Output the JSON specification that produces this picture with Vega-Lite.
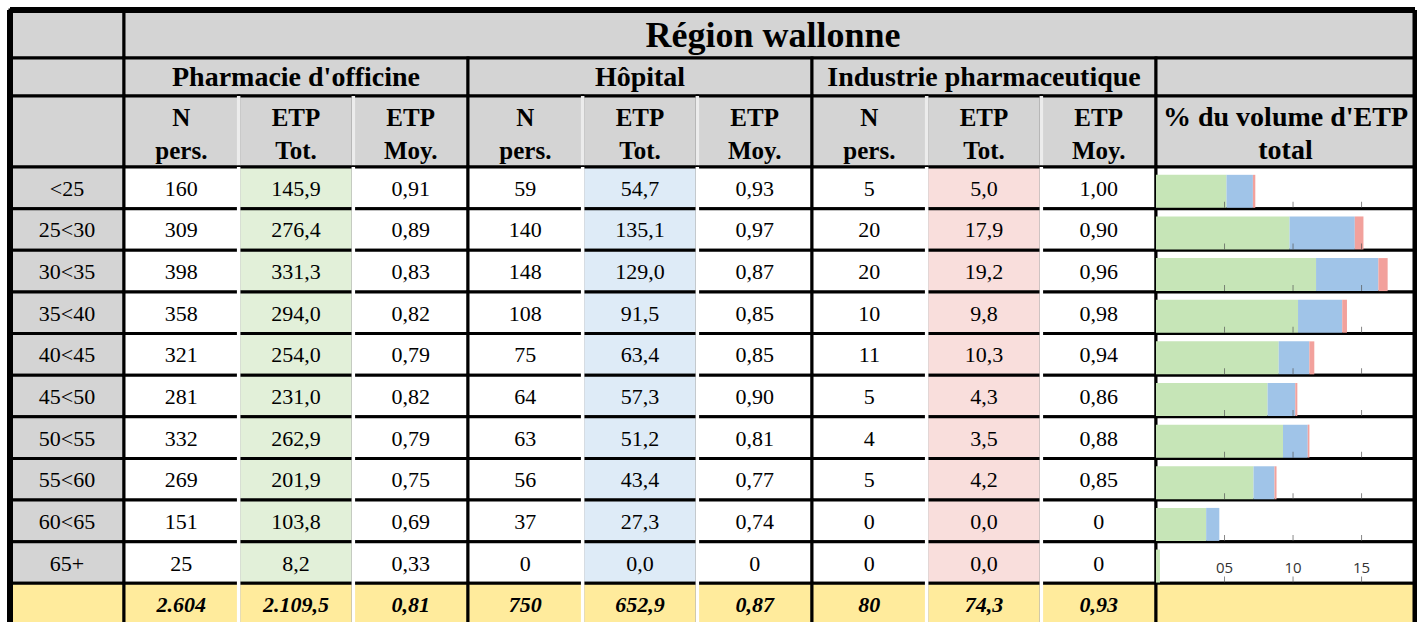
{
  "$schema": "https://vega.github.io/schema/vega-lite/v6.json",
  "background": "white",
  "padding": {"left": 7, "top": 7, "right": 0, "bottom": 0},
  "spacing": 0,
  "bounds": "flush",
  "columns": 3,
  "config": {
    "view": {"stroke": null},
    "concat": {"spacing": 0},
    "font": "Liberation Serif",
    "scale": {"bandPaddingInner": 0, "bandPaddingOuter": 0, "rectBandPaddingInner": 0, "barBandPaddingInner": 0}
  },
  "datasets": {
    "ages": [
      {"age": "<25"}, {"age": "25<30"}, {"age": "30<35"}, {"age": "35<40"}, {"age": "40<45"},
      {"age": "45<50"}, {"age": "50<55"}, {"age": "55<60"}, {"age": "60<65"}, {"age": "65+"}, {"age": "Total"}
    ],
    "cells": [
      {"age": "<25", "P_n": "160", "P_tot": "145,9", "P_moy": "0,91", "H_n": "59", "H_tot": "54,7", "H_moy": "0,93", "I_n": "5", "I_tot": "5,0", "I_moy": "1,00"},
      {"age": "25<30", "P_n": "309", "P_tot": "276,4", "P_moy": "0,89", "H_n": "140", "H_tot": "135,1", "H_moy": "0,97", "I_n": "20", "I_tot": "17,9", "I_moy": "0,90"},
      {"age": "30<35", "P_n": "398", "P_tot": "331,3", "P_moy": "0,83", "H_n": "148", "H_tot": "129,0", "H_moy": "0,87", "I_n": "20", "I_tot": "19,2", "I_moy": "0,96"},
      {"age": "35<40", "P_n": "358", "P_tot": "294,0", "P_moy": "0,82", "H_n": "108", "H_tot": "91,5", "H_moy": "0,85", "I_n": "10", "I_tot": "9,8", "I_moy": "0,98"},
      {"age": "40<45", "P_n": "321", "P_tot": "254,0", "P_moy": "0,79", "H_n": "75", "H_tot": "63,4", "H_moy": "0,85", "I_n": "11", "I_tot": "10,3", "I_moy": "0,94"},
      {"age": "45<50", "P_n": "281", "P_tot": "231,0", "P_moy": "0,82", "H_n": "64", "H_tot": "57,3", "H_moy": "0,90", "I_n": "5", "I_tot": "4,3", "I_moy": "0,86"},
      {"age": "50<55", "P_n": "332", "P_tot": "262,9", "P_moy": "0,79", "H_n": "63", "H_tot": "51,2", "H_moy": "0,81", "I_n": "4", "I_tot": "3,5", "I_moy": "0,88"},
      {"age": "55<60", "P_n": "269", "P_tot": "201,9", "P_moy": "0,75", "H_n": "56", "H_tot": "43,4", "H_moy": "0,77", "I_n": "5", "I_tot": "4,2", "I_moy": "0,85"},
      {"age": "60<65", "P_n": "151", "P_tot": "103,8", "P_moy": "0,69", "H_n": "37", "H_tot": "27,3", "H_moy": "0,74", "I_n": "0", "I_tot": "0,0", "I_moy": "0"},
      {"age": "65+", "P_n": "25", "P_tot": "8,2", "P_moy": "0,33", "H_n": "0", "H_tot": "0,0", "H_moy": "0", "I_n": "0", "I_tot": "0,0", "I_moy": "0"},
      {"age": "Total", "P_n": "2.604", "P_tot": "2.109,5", "P_moy": "0,81", "H_n": "750", "H_tot": "652,9", "H_moy": "0,87", "I_n": "80", "I_tot": "74,3", "I_moy": "0,93"}
    ],
    "bars": [
      {"age": "<25", "a_officine": 5.143, "b_hopital": 1.928, "c_industrie": 0.176},
      {"age": "25<30", "a_officine": 9.744, "b_hopital": 4.763, "c_industrie": 0.631},
      {"age": "30<35", "a_officine": 11.679, "b_hopital": 4.548, "c_industrie": 0.677},
      {"age": "35<40", "a_officine": 10.364, "b_hopital": 3.226, "c_industrie": 0.345},
      {"age": "40<45", "a_officine": 8.954, "b_hopital": 2.235, "c_industrie": 0.363},
      {"age": "45<50", "a_officine": 8.143, "b_hopital": 2.020, "c_industrie": 0.152},
      {"age": "50<55", "a_officine": 9.268, "b_hopital": 1.805, "c_industrie": 0.123},
      {"age": "55<60", "a_officine": 7.117, "b_hopital": 1.530, "c_industrie": 0.148},
      {"age": "60<65", "a_officine": 3.659, "b_hopital": 0.962, "c_industrie": 0},
      {"age": "65+", "a_officine": 0.289, "b_hopital": 0, "c_industrie": 0}
    ],
    "ticks": [
      {"age": "<25", "v": 5}, {"age": "<25", "v": 10}, {"age": "<25", "v": 15},
      {"age": "25<30", "v": 5}, {"age": "25<30", "v": 10}, {"age": "25<30", "v": 15},
      {"age": "30<35", "v": 5}, {"age": "30<35", "v": 10}, {"age": "30<35", "v": 15},
      {"age": "35<40", "v": 5}, {"age": "35<40", "v": 10}, {"age": "35<40", "v": 15},
      {"age": "40<45", "v": 5}, {"age": "40<45", "v": 10}, {"age": "40<45", "v": 15},
      {"age": "45<50", "v": 5}, {"age": "45<50", "v": 10}, {"age": "45<50", "v": 15},
      {"age": "50<55", "v": 5}, {"age": "50<55", "v": 10}, {"age": "50<55", "v": 15},
      {"age": "55<60", "v": 5}, {"age": "55<60", "v": 10}, {"age": "55<60", "v": 15},
      {"age": "60<65", "v": 5}, {"age": "60<65", "v": 10}, {"age": "60<65", "v": 15},
      {"age": "65+", "v": 5}, {"age": "65+", "v": 10}, {"age": "65+", "v": 15}
    ],
    "tlabels": [
      {"age": "65+", "v": 5, "lab": "05"}, {"age": "65+", "v": 10, "lab": "10"}, {"age": "65+", "v": 15, "lab": "15"}
    ],
    "subs": [
      {"col": "P_n", "lab": ["N", "pers."]}, {"col": "P_tot", "lab": ["ETP", "Tot."]}, {"col": "P_moy", "lab": ["ETP", "Moy."]},
      {"col": "H_n", "lab": ["N", "pers."]}, {"col": "H_tot", "lab": ["ETP", "Tot."]}, {"col": "H_moy", "lab": ["ETP", "Moy."]},
      {"col": "I_n", "lab": ["N", "pers."]}, {"col": "I_tot", "lab": ["ETP", "Tot."]}, {"col": "I_moy", "lab": ["ETP", "Moy."]}
    ],
    "seps": [
      {"col": "P_tot"}, {"col": "P_moy"}, {"col": "H_tot"}, {"col": "H_moy"}, {"col": "I_tot"}, {"col": "I_moy"}
    ],
    "groups": [
      {"g": "Pharmacie d'officine"}, {"g": "Hôpital"}, {"g": "Industrie pharmaceutique"}
    ],
    "one": [{}]
  },
  "concat": [
    {
      "width": 114, "height": 48,
      "data": {"name": "one"},
      "layer": [
        {"mark": {"type": "rect", "fill": "#d4d4d4", "stroke": "black", "strokeWidth": 3},
         "encoding": {"x": {"datum": 0, "type": "quantitative", "scale": {"domain": [0, 1]}, "axis": null}, "x2": {"datum": 1},
                      "y": {"datum": 0, "type": "quantitative", "scale": {"domain": [0, 1]}, "axis": null}, "y2": {"datum": 1}}},
        {"mark": {"type": "rule", "color": "black", "strokeWidth": 6}, "encoding": {"x": {"datum": 0, "type": "quantitative"}}},
        {"mark": {"type": "rule", "color": "black", "strokeWidth": 6}, "encoding": {"y": {"datum": 1, "type": "quantitative"}}}
      ]
    },
    {
      "width": 1032, "height": 48,
      "data": {"name": "one"},
      "layer": [
        {"mark": {"type": "rect", "fill": "#d4d4d4"},
         "encoding": {"x": {"datum": 0, "type": "quantitative", "scale": {"domain": [0, 1]}, "axis": null}, "x2": {"datum": 1},
                      "y": {"datum": 0, "type": "quantitative", "scale": {"domain": [0, 1]}, "axis": null}, "y2": {"datum": 1}}},
        {"mark": {"type": "rule", "color": "black", "strokeWidth": 3}, "encoding": {"x": {"datum": 0, "type": "quantitative"}}},
        {"mark": {"type": "rule", "color": "black", "strokeWidth": 3}, "encoding": {"y": {"datum": 0, "type": "quantitative"}}},
        {"mark": {"type": "rule", "color": "black", "strokeWidth": 6}, "encoding": {"y": {"datum": 1, "type": "quantitative"}}},
        {"mark": {"type": "text", "text": "Région wallonne", "fontSize": 36, "fontWeight": "bold", "color": "black", "dx": 133, "dy": 2, "baseline": "middle", "align": "center"}, "encoding": {}}
      ]
    },
    {
      "width": 259, "height": 48,
      "data": {"name": "one"},
      "layer": [
        {"mark": {"type": "rect", "fill": "#d4d4d4"},
         "encoding": {"x": {"datum": 0, "type": "quantitative", "scale": {"domain": [0, 1]}, "axis": null}, "x2": {"datum": 1},
                      "y": {"datum": 0, "type": "quantitative", "scale": {"domain": [0, 1]}, "axis": null}, "y2": {"datum": 1}}},
        {"mark": {"type": "rule", "color": "black", "strokeWidth": 3}, "encoding": {"y": {"datum": 0, "type": "quantitative"}}},
        {"mark": {"type": "rule", "color": "black", "strokeWidth": 6}, "encoding": {"y": {"datum": 1, "type": "quantitative"}}},
        {"mark": {"type": "rule", "color": "black", "strokeWidth": 5}, "encoding": {"x": {"datum": 1, "type": "quantitative"}}}
      ]
    },
    {
      "width": 114, "height": 38,
      "data": {"name": "one"},
      "layer": [
        {"mark": {"type": "rect", "fill": "#d4d4d4", "stroke": "black", "strokeWidth": 3},
         "encoding": {"x": {"datum": 0, "type": "quantitative", "scale": {"domain": [0, 1]}, "axis": null}, "x2": {"datum": 1},
                      "y": {"datum": 0, "type": "quantitative", "scale": {"domain": [0, 1]}, "axis": null}, "y2": {"datum": 1}}},
        {"mark": {"type": "rule", "color": "black", "strokeWidth": 6}, "encoding": {"x": {"datum": 0, "type": "quantitative"}}}
      ]
    },
    {
      "width": 1032, "height": 38,
      "data": {"name": "groups"},
      "encoding": {"x": {"field": "g", "type": "nominal", "sort": null, "scale": {"domain": ["Pharmacie d'officine", "Hôpital", "Industrie pharmaceutique"]}, "axis": null}},
      "layer": [
        {"mark": {"type": "rect", "fill": "#d4d4d4", "stroke": "black", "strokeWidth": 3},
         "encoding": {"y": {"datum": 0, "type": "quantitative", "scale": {"domain": [0, 1]}, "axis": null}, "y2": {"datum": 1}}},
        {"mark": {"type": "text", "fontSize": 28, "fontWeight": "bold", "color": "black", "baseline": "middle", "dy": 1}, "encoding": {"text": {"field": "g"}}}
      ]
    },
    {
      "width": 259, "height": 38,
      "data": {"name": "one"},
      "layer": [
        {"mark": {"type": "rect", "fill": "#d4d4d4", "stroke": "black", "strokeWidth": 3},
         "encoding": {"x": {"datum": 0, "type": "quantitative", "scale": {"domain": [0, 1]}, "axis": null}, "x2": {"datum": 1},
                      "y": {"datum": 0, "type": "quantitative", "scale": {"domain": [0, 1]}, "axis": null}, "y2": {"datum": 1}}},
        {"mark": {"type": "rule", "color": "black", "strokeWidth": 5}, "encoding": {"x": {"datum": 1, "type": "quantitative"}}}
      ]
    },
    {
      "width": 114, "height": 71,
      "data": {"name": "one"},
      "layer": [
        {"mark": {"type": "rect", "fill": "#d4d4d4", "stroke": "black", "strokeWidth": 3},
         "encoding": {"x": {"datum": 0, "type": "quantitative", "scale": {"domain": [0, 1]}, "axis": null}, "x2": {"datum": 1},
                      "y": {"datum": 0, "type": "quantitative", "scale": {"domain": [0, 1]}, "axis": null}, "y2": {"datum": 1}}},
        {"mark": {"type": "rule", "color": "black", "strokeWidth": 6}, "encoding": {"x": {"datum": 0, "type": "quantitative"}}}
      ]
    },
    {
      "width": 1032, "height": 71,
      "layer": [
        {"data": {"name": "subs"},
         "mark": {"type": "rect", "fill": "#d4d4d4", "stroke": "black", "strokeWidth": 3},
         "encoding": {"x": {"field": "col", "type": "nominal", "sort": null, "scale": {"domain": ["P_n", "P_tot", "P_moy", "H_n", "H_tot", "H_moy", "I_n", "I_tot", "I_moy"]}, "axis": null},
                      "y": {"datum": 0, "type": "quantitative", "scale": {"domain": [0, 1]}, "axis": null}, "y2": {"datum": 1}}},
        {"data": {"name": "seps"},
         "mark": {"type": "rule", "color": "#ececec", "strokeWidth": 3.5},
         "encoding": {"x": {"field": "col", "type": "nominal", "sort": null, "bandPosition": 0}}},
        {"data": {"name": "subs"},
         "mark": {"type": "text", "fontSize": 25, "fontWeight": "bold", "color": "black", "baseline": "middle", "lineHeight": 33, "dy": -14},
         "encoding": {"x": {"field": "col", "type": "nominal", "sort": null}, "text": {"field": "lab"}}}
      ]
    },
    {
      "width": 259, "height": 71,
      "data": {"name": "one"},
      "layer": [
        {"mark": {"type": "rect", "fill": "#d4d4d4", "stroke": "black", "strokeWidth": 3},
         "encoding": {"x": {"datum": 0, "type": "quantitative", "scale": {"domain": [0, 1]}, "axis": null}, "x2": {"datum": 1},
                      "y": {"datum": 0, "type": "quantitative", "scale": {"domain": [0, 1]}, "axis": null}, "y2": {"datum": 1}}},
        {"mark": {"type": "rule", "color": "black", "strokeWidth": 5}, "encoding": {"x": {"datum": 1, "type": "quantitative"}}},
        {"mark": {"type": "text", "text": ["% du volume d'ETP", "total"], "fontSize": 28, "fontWeight": "bold", "color": "black", "baseline": "middle", "lineHeight": 33, "dy": -14}, "encoding": {}}
      ]
    },
    {
      "width": 114, "height": 458,
      "layer": [
        {"data": {"name": "ages"},
         "mark": {"type": "rect", "stroke": "black", "strokeWidth": 3},
         "encoding": {"y": {"field": "age", "type": "nominal", "sort": null, "scale": {"domain": ["<25", "25<30", "30<35", "35<40", "40<45", "45<50", "50<55", "55<60", "60<65", "65+", "Total"]}, "axis": null},
                      "x": {"datum": 0, "type": "quantitative", "scale": {"domain": [0, 1]}, "axis": null}, "x2": {"datum": 1},
                      "fill": {"condition": {"test": "datum.age === 'Total'", "value": "#ffeb9c"}, "value": "#d4d4d4"}}},
        {"data": {"name": "ages"},
         "transform": [{"filter": "datum.age !== 'Total'"}],
         "mark": {"type": "text", "fontSize": 22, "color": "black", "baseline": "middle", "dy": 1},
         "encoding": {"y": {"field": "age", "type": "nominal", "sort": null}, "text": {"field": "age"}}},
        {"data": {"name": "one"},
         "mark": {"type": "rule", "color": "black", "strokeWidth": 6}, "encoding": {"x": {"datum": 0, "type": "quantitative"}}}
      ]
    },
    {
      "width": 1032, "height": 458,
      "layer": [
        {"data": {"name": "cells"},
         "transform": [{"fold": ["P_n", "P_tot", "P_moy", "H_n", "H_tot", "H_moy", "I_n", "I_tot", "I_moy"], "as": ["col", "v"]}],
         "mark": {"type": "rect", "stroke": "black", "strokeWidth": 3},
         "encoding": {
           "x": {"field": "col", "type": "nominal", "sort": null, "scale": {"domain": ["P_n", "P_tot", "P_moy", "H_n", "H_tot", "H_moy", "I_n", "I_tot", "I_moy"]}, "axis": null},
           "y": {"field": "age", "type": "nominal", "sort": null, "scale": {"domain": ["<25", "25<30", "30<35", "35<40", "40<45", "45<50", "50<55", "55<60", "60<65", "65+", "Total"]}, "axis": null},
           "fill": {"condition": {"test": "datum.age === 'Total'", "value": "#ffeb9c"}, "field": "col", "type": "nominal",
                    "scale": {"domain": ["P_n", "P_tot", "P_moy", "H_n", "H_tot", "H_moy", "I_n", "I_tot", "I_moy"], "range": ["#ffffff", "#e2f0d9", "#ffffff", "#ffffff", "#deebf7", "#ffffff", "#ffffff", "#f9dedc", "#ffffff"]}, "legend": null}}},
        {"data": {"name": "cells"},
         "transform": [{"fold": ["P_n", "P_tot", "P_moy", "H_n", "H_tot", "H_moy", "I_n", "I_tot", "I_moy"], "as": ["col", "v"]}, {"filter": "datum.age !== 'Total'"}],
         "mark": {"type": "text", "fontSize": 22, "color": "black", "baseline": "middle", "dy": 1},
         "encoding": {"x": {"field": "col", "type": "nominal", "sort": null}, "y": {"field": "age", "type": "nominal", "sort": null}, "text": {"field": "v"}}},
        {"data": {"name": "cells"},
         "transform": [{"fold": ["P_n", "P_tot", "P_moy", "H_n", "H_tot", "H_moy", "I_n", "I_tot", "I_moy"], "as": ["col", "v"]}, {"filter": "datum.age === 'Total'"}],
         "mark": {"type": "text", "fontSize": 22, "fontWeight": "bold", "fontStyle": "italic", "color": "black", "baseline": "middle", "dy": 1},
         "encoding": {"x": {"field": "col", "type": "nominal", "sort": null}, "y": {"field": "age", "type": "nominal", "sort": null}, "text": {"field": "v"}}},
        {"data": {"name": "seps"},
         "mark": {"type": "rule", "color": "white", "strokeWidth": 3.5},
         "encoding": {"x": {"field": "col", "type": "nominal", "sort": null, "bandPosition": 0}}}
      ]
    },
    {
      "width": 259, "height": 458,
      "layer": [
        {"data": {"name": "ages"},
         "mark": {"type": "rect", "stroke": "black", "strokeWidth": 3},
         "encoding": {"y": {"field": "age", "type": "nominal", "sort": null, "scale": {"domain": ["<25", "25<30", "30<35", "35<40", "40<45", "45<50", "50<55", "55<60", "60<65", "65+", "Total"]}, "axis": null},
                      "x": {"datum": 0, "type": "quantitative", "scale": {"domain": [0, 18.9], "nice": false, "zero": false}, "axis": null}, "x2": {"datum": 18.9},
                      "fill": {"condition": {"test": "datum.age === 'Total'", "value": "#ffeb9c"}, "value": "#ffffff"}}},
        {"data": {"name": "bars"},
         "transform": [{"fold": ["a_officine", "b_hopital", "c_industrie"], "as": ["sector", "pct"]}],
         "mark": {"type": "bar", "height": 33, "yOffset": 3.5},
         "encoding": {"y": {"field": "age", "type": "nominal", "sort": null},
                      "x": {"field": "pct", "type": "quantitative", "stack": "zero"},
                      "color": {"field": "sector", "type": "nominal", "scale": {"domain": ["a_officine", "b_hopital", "c_industrie"], "range": ["#c6e5b7", "#a0c4e8", "#f2a19c"]}, "legend": null},
                      "order": {"field": "sector", "sort": "ascending"}}},
        {"data": {"name": "ticks"},
         "mark": {"type": "tick", "size": 6, "thickness": 1, "yOffset": 17, "color": "#555555"},
         "encoding": {"y": {"field": "age", "type": "nominal", "sort": null}, "x": {"field": "v", "type": "quantitative"}}},
        {"data": {"name": "tlabels"},
         "mark": {"type": "text", "font": "Open Sans", "fontSize": 15, "color": "#333333", "baseline": "middle", "yOffset": 5},
         "encoding": {"y": {"field": "age", "type": "nominal", "sort": null}, "x": {"field": "v", "type": "quantitative"}, "text": {"field": "lab"}}},
        {"data": {"name": "one"},
         "mark": {"type": "rule", "color": "black", "strokeWidth": 5}, "encoding": {"x": {"datum": 18.9, "type": "quantitative"}}}
      ]
    }
  ]
}
